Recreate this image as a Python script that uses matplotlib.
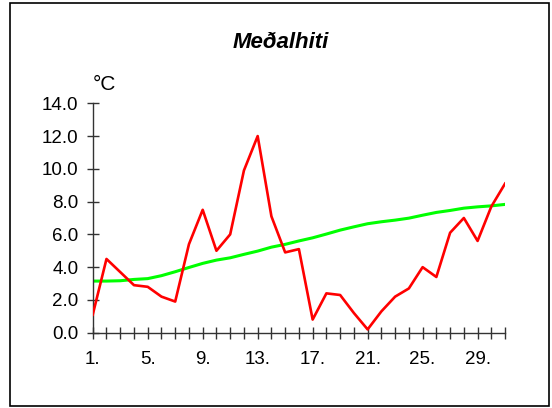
import matplotlib
matplotlib.use('Agg')
import matplotlib.pyplot as plt
from matplotlib.patches import Rectangle

days = list(range(1, 32))
hiti = [1.1, 4.5, 3.7, 2.9, 2.8, 2.2, 1.9, 5.4, 7.5, 5.0, 6.0, 9.9, 12.0, 7.1, 4.9, 5.1,
        0.8, 2.4, 2.3, 1.2, 0.2, 1.3, 2.2, 2.7, 4.0, 3.4, 6.1, 7.0, 5.6, 7.7, 9.1]
medal = [3.15, 3.15, 3.17, 3.25, 3.3, 3.48, 3.72, 3.98, 4.23, 4.43, 4.57, 4.78, 4.98, 5.22, 5.39, 5.6,
         5.79, 6.02, 6.26, 6.46, 6.65, 6.77, 6.87, 6.99, 7.17, 7.34, 7.46, 7.6, 7.68, 7.74, 7.83]
y_ticks = [0, 2, 4, 6, 8, 10, 12, 14]
x_labels = [1, 5, 9, 13, 17, 21, 25, 29]

plt.rcParams['font.family'] = ['Liberation Sans', 'DejaVu Sans']

fig = plt.figure(figsize=(5.52, 4.08), dpi=100)
fig.patches.append(Rectangle((0.018, 0.005), 0.977, 0.988, transform=fig.transFigure,
                             fill=False, edgecolor='black', linewidth=1.2))

ax = fig.add_axes([0.168, 0.1846, 0.747, 0.5622])
ax.plot(days, hiti, color='#FF0000', linewidth=1.9, zorder=3)
ax.plot(days, medal, color='#00FF00', linewidth=2.2, zorder=2)

ax.set_xlim(1, 31)
ax.set_ylim(0, 14)
for side in ('top', 'right'):
    ax.spines[side].set_visible(False)
for side in ('left', 'bottom'):
    ax.spines[side].set_color('#333333')
    ax.spines[side].set_linewidth(1.0)

ax.set_yticks(y_ticks)
ax.set_yticklabels([f'{v:.1f}' for v in y_ticks])
ax.set_xticks(days, minor=True)
ax.set_xticks(x_labels)
ax.set_xticklabels([f'{d}.' for d in x_labels])
ax.tick_params(axis='both', which='both', direction='inout', length=8.5, width=1.0,
               color='#333333', labelsize=13.5)
ax.tick_params(axis='y', pad=6)
ax.tick_params(axis='x', pad=9)

ax.text(0.0, 1.057, '°C', transform=ax.transAxes, fontsize=15, ha='left', va='baseline')
fig.text(0.509, 0.897, 'Meðalhiti', fontsize=16, fontweight='bold', fontstyle='italic',
         ha='center', va='center')

fig.savefig('out.png', dpi=100)
